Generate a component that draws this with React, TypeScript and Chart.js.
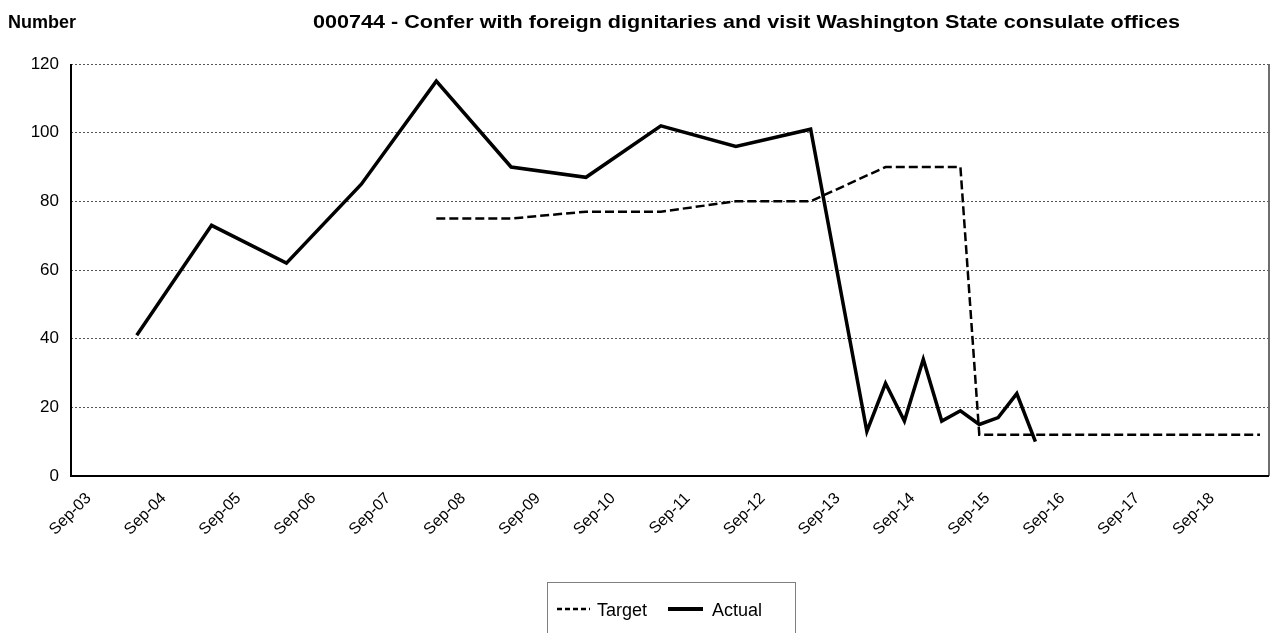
import React, { useEffect, useRef } from 'react';
import { Chart, registerables } from 'chart.js';

Chart.register(...registerables);

// ---------- data ----------
const yAxisTitle = 'Number';
const chartTitle =
  '000744 - Confer with foreign dignitaries and visit Washington State consulate offices';

const axisStart = '2003-08-14';
const axisEnd = '2019-08-13';

const tickDates = [
  '2003-09-01', '2004-09-01', '2005-09-01', '2006-09-01', '2007-09-01', '2008-09-01',
  '2009-09-01', '2010-09-01', '2011-09-01', '2012-09-01', '2013-09-01', '2014-09-01',
  '2015-09-01', '2016-09-01', '2017-09-01', '2018-09-01',
];
const tickLabels = [
  'Sep-03', 'Sep-04', 'Sep-05', 'Sep-06', 'Sep-07', 'Sep-08', 'Sep-09', 'Sep-10',
  'Sep-11', 'Sep-12', 'Sep-13', 'Sep-14', 'Sep-15', 'Sep-16', 'Sep-17', 'Sep-18',
];

const yTickValues = [0, 20, 40, 60, 80, 100, 120];

const actualDates = [
  '2004-06-30', '2005-06-30', '2006-06-30', '2007-06-30', '2008-06-30', '2009-06-30',
  '2010-06-30', '2011-06-30', '2012-06-30', '2013-06-30', '2014-03-31', '2014-06-30',
  '2014-09-30', '2014-12-31', '2015-03-31', '2015-06-30', '2015-09-30', '2015-12-31',
  '2016-03-31', '2016-06-30',
];
const actualValues = [41, 73, 62, 85, 115, 90, 87, 102, 96, 101, 13, 27, 16, 34, 16, 19, 15, 17, 24, 10];

const targetDates = [
  '2008-06-30', '2009-06-30', '2010-06-30', '2011-06-30', '2012-06-30', '2013-06-30',
  '2014-06-30', '2015-06-30', '2015-09-30', '2015-12-31', '2016-03-31', '2016-06-30',
  '2016-09-30', '2016-12-31', '2017-03-31', '2017-06-30', '2017-09-30', '2017-12-31',
  '2018-03-31', '2018-06-30', '2018-09-30', '2018-12-31', '2019-03-31', '2019-06-30',
];
const targetValues = [75, 75, 77, 77, 80, 80, 90, 90, 12, 12, 12, 12, 12, 12, 12, 12, 12, 12, 12, 12, 12, 12, 12, 12];

// ---------- helpers ----------
function toYear(d: string): number {
  const [y, m, day] = d.split('-').map(Number);
  const start = Date.UTC(y, 0, 1);
  const end = Date.UTC(y + 1, 0, 1);
  return y + (Date.UTC(y, m - 1, day) - start) / (end - start);
}

const FONT = "'Liberation Sans', Arial, sans-serif";

const framePlugin = {
  id: 'frame',
  beforeDatasetsDraw(chart: any) {
    const { ctx, chartArea: a } = chart;
    ctx.save();
    ctx.setLineDash([]);
    ctx.lineWidth = 2;
    ctx.strokeStyle = '#6e6e6e';
    ctx.beginPath();
    ctx.moveTo(a.right, a.top);
    ctx.lineTo(a.right, a.bottom);
    ctx.stroke();
    ctx.strokeStyle = '#000';
    ctx.beginPath();
    ctx.moveTo(a.left, a.top);
    ctx.lineTo(a.left, a.bottom);
    ctx.lineTo(a.right, a.bottom);
    ctx.stroke();
    ctx.restore();
  },
};

const textPlugin = {
  id: 'texts',
  afterDraw(chart: any) {
    const { ctx } = chart;
    ctx.save();
    ctx.fillStyle = '#000';
    ctx.textBaseline = 'alphabetic';
    ctx.textAlign = 'left';
    ctx.font = `bold 18px ${FONT}`;
    ctx.fillText(yAxisTitle, 8, 28);

    // chart title, slightly widened like the reference rendering
    ctx.font = `bold 19px ${FONT}`;
    const titleLeft = 313;
    const titleWidth = 867;
    const natural = ctx.measureText(chartTitle).width;
    ctx.save();
    ctx.translate(titleLeft, 28);
    ctx.scale(titleWidth / natural, 1);
    ctx.fillText(chartTitle, 0, 0);
    ctx.restore();

    // legend
    ctx.lineWidth = 1;
    ctx.strokeStyle = '#808080';
    ctx.setLineDash([]);
    ctx.strokeRect(547.5, 582.5, 248, 70);

    const ds = chart.data.datasets;
    const legendY = 609;
    // Target
    ctx.strokeStyle = ds[0].borderColor;
    ctx.lineWidth = 2.5;
    ctx.setLineDash([5, 3]);
    ctx.beginPath();
    ctx.moveTo(557, legendY);
    ctx.lineTo(590, legendY);
    ctx.stroke();
    // Actual
    ctx.setLineDash([]);
    ctx.lineWidth = 4;
    ctx.strokeStyle = ds[1].borderColor;
    ctx.beginPath();
    ctx.moveTo(668, legendY);
    ctx.lineTo(703, legendY);
    ctx.stroke();

    ctx.font = `18px ${FONT}`;
    ctx.fillStyle = '#000';
    ctx.fillText(ds[0].label, 597, 616);
    ctx.fillText(ds[1].label, 712, 616);
    ctx.restore();
  },
};

export default function App() {
  const ref = useRef<HTMLCanvasElement | null>(null);

  useEffect(() => {
    if (!ref.current) return;
    const chart = new Chart(ref.current, {
      type: 'line',
      data: {
        datasets: [
          {
            label: 'Target',
            data: targetDates.map((d, i) => ({ x: toYear(d), y: targetValues[i] })),
            borderColor: '#000',
            borderWidth: 2.5,
            borderDash: [9, 4],
            pointRadius: 0,
            tension: 0,
            fill: false,
          },
          {
            label: 'Actual',
            data: actualDates.map((d, i) => ({ x: toYear(d), y: actualValues[i] })),
            borderColor: '#000',
            borderWidth: 3.5,
            pointRadius: 0,
            tension: 0,
            fill: false,
          },
        ],
      },
      options: {
        animation: false,
        responsive: false,
        devicePixelRatio: 1,
        layout: { padding: { top: 64, right: 3, left: 0, bottom: 0 } },
        plugins: {
          legend: { display: false },
          title: { display: false },
          tooltip: { enabled: false },
        },
        scales: {
          x: {
            type: 'linear',
            min: toYear(axisStart),
            max: toYear(axisEnd),
            afterBuildTicks: (scale: any) => {
              scale.ticks = tickDates.map((d) => ({ value: toYear(d) }));
            },
            afterFit: (scale: any) => {
              scale.height = 633 - 476;
            },
            grid: { display: false, drawTicks: false },
            border: { display: false },
            ticks: {
              autoSkip: false,
              minRotation: 45,
              maxRotation: 45,
              labelOffset: 14,
              padding: 13,
              color: '#000',
              font: { family: FONT, size: 16 },
              callback: (_v: any, i: number) => tickLabels[i] ?? '',
            },
          },
          y: {
            min: 0,
            max: 120,
            afterBuildTicks: (scale: any) => {
              scale.ticks = yTickValues.map((v) => ({ value: v }));
            },
            afterFit: (scale: any) => {
              scale.width = 71;
            },
            grid: {
              color: '#555',
              lineWidth: 1,
              drawTicks: false,
            },
            border: { display: false, dash: [2, 2] },
            ticks: {
              padding: 12,
              color: '#000',
              font: { family: FONT, size: 17 },
            },
          },
        },
      },
      plugins: [framePlugin, textPlugin],
    } as any);
    return () => chart.destroy();
  }, []);

  return (
    <div style={{ position: 'fixed', left: 0, top: 0, width: 1272, height: 633, background: '#fff' }}>
      <canvas ref={ref} width={1272} height={633} style={{ display: 'block' }} />
    </div>
  );
}
